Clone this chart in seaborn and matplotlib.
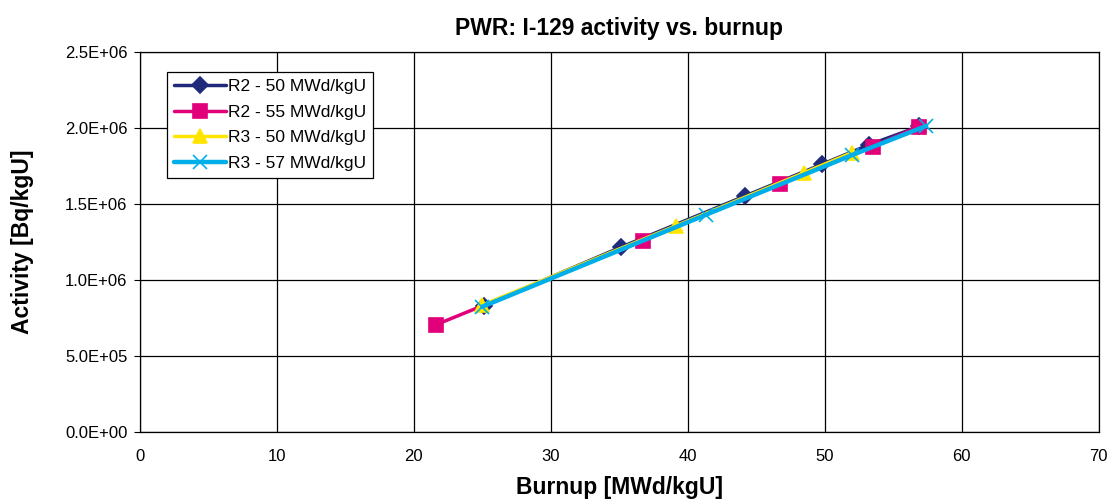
import numpy as np
import pandas as pd
import matplotlib
matplotlib.use("Agg")
import matplotlib.pyplot as plt
import seaborn as sns
from matplotlib.ticker import FuncFormatter, MultipleLocator

# burnup [MWd/kgU] and activity [Bq/kgU]
r2_50_x = [25.1, 35.1, 44.2, 49.8, 53.2, 56.9]
r2_50_y = [0.83e6, 1.215e6, 1.553e6, 1.761e6, 1.888e6, 2.01e6]
r2_55_x = [21.6, 36.7, 46.7, 53.5, 56.85]
r2_55_y = [0.705e6, 1.259e6, 1.63e6, 1.877e6, 2.009e6]
r3_50_x = [25.0, 39.1, 48.5, 52.0]
r3_50_y = [0.835e6, 1.355e6, 1.706e6, 1.838e6]
r3_57_x = [25.0, 41.3, 52.0, 57.4]
r3_57_y = [0.824e6, 1.428e6, 1.822e6, 2.013e6]

labels = ["R2 - 50 MWd/kgU", "R2 - 55 MWd/kgU", "R3 - 50 MWd/kgU", "R3 - 57 MWd/kgU"]
xs = [r2_50_x, r2_55_x, r3_50_x, r3_57_x]
ys = [r2_50_y, r2_55_y, r3_50_y, r3_57_y]

colors = ["#1F2A7A", "#E2007A", "#FFE500", "#00AEEA"]
markers = ["D", "s", "^", "x"]
msizes = [8, 10, 10, 10]
lws = [2.5, 2.5, 2.5, 3.2]

sns.set_style("white", {"text.color": "black", "axes.labelcolor": "black",
                        "xtick.color": "black", "ytick.color": "black"})
plt.rcParams['font.family'] = ['Liberation Sans', 'DejaVu Sans']

fig = plt.figure(figsize=(11.11, 5.04), dpi=100)
ax = fig.add_axes([0.126, 0.143, 0.863, 0.754])

for x, y, lab, c, m, ms, lw in zip(xs, ys, labels, colors, markers, msizes, lws):
    df = pd.DataFrame({"burnup": x, "activity": y})
    sns.lineplot(data=df, x="burnup", y="activity", ax=ax, color=c, marker=m,
                 markersize=ms, linewidth=lw, markeredgecolor=c,
                 markeredgewidth=1.2, label=lab, sort=False)

ax.set_xlim(0, 70)
ax.set_ylim(0, 2.5e6)
ax.xaxis.set_major_locator(MultipleLocator(10))
ax.yaxis.set_major_locator(MultipleLocator(0.5e6))
ax.yaxis.set_major_formatter(FuncFormatter(lambda v, p: f"{v:.1E}"))
ax.grid(True, color="black", linewidth=0.9)
for s in ax.spines.values():
    s.set_color("black")
    s.set_linewidth(0.9)
ax.tick_params(axis="y", labelsize=12, direction="out", length=4, color="black",
               labelcolor="black", left=True, pad=5)
ax.tick_params(axis="x", labelsize=12, length=0, pad=12, labelcolor="black")

ax.set_title("PWR: I-129 activity vs. burnup", fontsize=16.5, fontweight="bold",
             pad=12, color="black")
ax.set_xlabel("Burnup [MWd/kgU]", fontsize=16.5, fontweight="bold", labelpad=9)
ax.set_ylabel("Activity [Bq/kgU]", fontsize=16.5, fontweight="bold", labelpad=22)

leg = ax.legend(loc="upper left", bbox_to_anchor=(0.028, 0.947), fontsize=12.5,
                frameon=True, fancybox=False, framealpha=1, edgecolor="black",
                handlelength=3.0, handletextpad=0.1, borderpad=0.4, labelspacing=0.6,
                borderaxespad=0)
leg.get_frame().set_linewidth(0.9)

fig.savefig("out.png", dpi=100)
